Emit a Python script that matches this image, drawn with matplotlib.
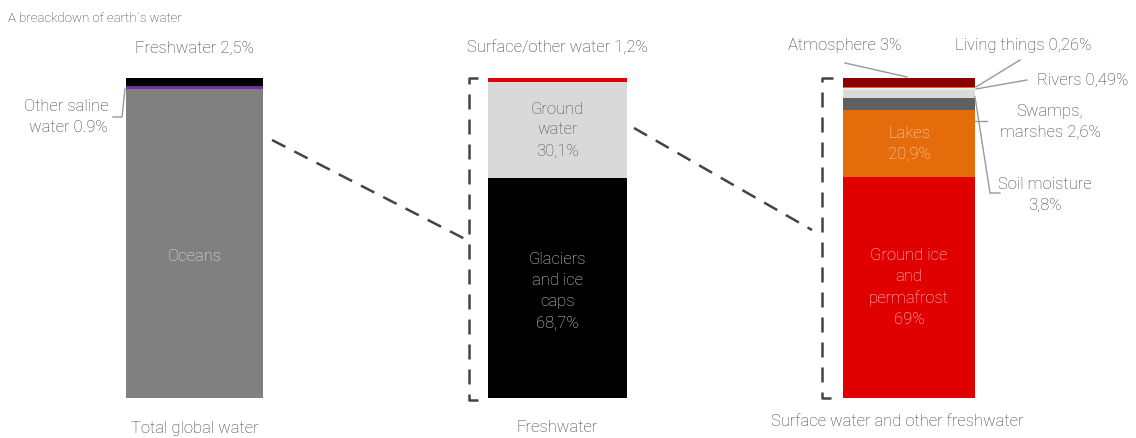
import matplotlib.pyplot as plt

# --- data ---
total_labels = ["Oceans", "Other saline water", "Freshwater"]
total_values = [96.6, 0.9, 2.5]
total_colors = ["#808080", "#7030a0", "#000000"]

fresh_labels = ["Glaciers and ice caps", "Ground water", "Surface/other water"]
fresh_values = [68.7, 30.1, 1.2]
fresh_colors = ["#000000", "#d9d9d9", "#e00000"]

surf_labels = ["Ground ice and permafrost", "Lakes", "Soil moisture",
               "Swamps, marshes", "Rivers", "Living things", "Atmosphere"]
surf_values = [69.0, 20.9, 3.8, 2.6, 0.49, 0.26, 3.0]
surf_colors = ["#e00000", "#e46c0a", "#5f5f5f", "#d9d9d9", "#ececec",
               "#e46c0a", "#8b0000"]

bar_names = ["Total global water", "Freshwater", "Surface water and other freshwater"]

plt.rcParams["font.family"] = ["Roboto", "DejaVu Sans"]
plt.rcParams["font.weight"] = "light"

fig = plt.figure(figsize=(11.36, 4.38), dpi=100)
ax = fig.add_axes([0, 0, 1, 1])
# x in pixels, y in percent (0 at px 398, 100 at px 78)
ax.set_xlim(0, 1136)
ax.set_ylim((398 - 438) / 3.2, 398 / 3.2)
ax.axis("off")

def py(p):
    return (398 - p) / 3.2

txt = "#3c3c3c"
ls = 1.5


def stack(xc, w, vals, cols):
    bottom = 0
    mids = []
    for v, c in zip(vals, cols):
        ax.bar(xc, v, width=w, bottom=bottom, color=c, linewidth=0)
        mids.append(bottom + v / 2)
        bottom += v
    return mids


m1 = stack(194.5, 137, total_values, total_colors)
m2 = stack(557.5, 139, fresh_values, fresh_colors)
m3 = stack(909, 132, surf_values, surf_colors)

fs = 12
# bar 1
ax.text(194.5, m1[0] - 4, "Oceans", color="#e8e8e8", ha="center", va="center", fontsize=fs)
ax.text(194.5, py(48), "Freshwater 2,5%", color=txt, ha="center", va="center", fontsize=fs)
ax.text(108, py(117), "Other saline\nwater 0.9%", color=txt, ha="right", va="center",
        fontsize=fs, linespacing=ls)
ax.plot([113, 122, 125], [py(117), py(117), py(89)], color="#999999", lw=1)

# bar 2
ax.text(557.5, py(48), "Surface/other water 1,2%", color=txt, ha="center", va="center", fontsize=fs)
ax.text(557.5, m2[1], "Ground\nwater\n30,1%", color="#4a4a4a", ha="center", va="center",
        fontsize=fs, linespacing=ls)
ax.text(557.5, m2[0] - 1, "Glaciers\nand ice\ncaps\n68,7%", color="#dddddd", ha="center",
        va="center", fontsize=fs, linespacing=ls)

# bar 3
ax.text(909, m3[1], "Lakes\n20,9%", color="#f8e0c8", ha="center", va="center",
        fontsize=fs, linespacing=ls)
ax.text(909, m3[0], "Ground ice\nand\npermafrost\n69%", color="#fadada", ha="center",
        va="center", fontsize=fs, linespacing=ls)

ax.text(845, py(45), "Atmosphere 3%", color=txt, ha="center", va="center", fontsize=fs)
ax.plot([845, 907], [py(63), py(77)], color="#999999", lw=1)
ax.text(1023, py(45), "Living things 0,26%", color=txt, ha="center", va="center", fontsize=fs)
ax.plot([1020, 976], [py(60), py(87)], color="#999999", lw=1)
ax.text(1128, py(80), "Rivers 0,49%", color=txt, ha="right", va="center", fontsize=fs)
ax.plot([1027, 976], [py(80), py(89)], color="#999999", lw=1)
ax.text(1050, py(122), "Swamps,\nmarshes 2,6%", color=txt, ha="center", va="center",
        fontsize=fs, linespacing=ls)
ax.plot([975, 987], [py(121), py(121)], color="#999999", lw=1)
ax.text(1045, py(195), "Soil moisture\n3,8%", color=txt, ha="center", va="center",
        fontsize=fs, linespacing=ls)
ax.plot([975, 990, 1000], [py(97), py(193), py(193)], color="#999999", lw=1)

# brackets and connectors
dash = dict(color="#444444", lw=1.8, ls=(0, (6, 4)))
ax.plot([478, 469, 469, 487], [py(78), py(78), py(400), py(400)], **dash)
ax.plot([833, 822, 822, 838], [py(78), py(78), py(398), py(398)], **dash)
ax.plot([272, 467], [py(140), py(240)], **dash)
ax.plot([634, 812], [py(128), py(230)], **dash)

# titles
ax.text(8, py(18), "A breackdown of earth\u00b4s water", color="#333333", ha="left",
        va="center", fontsize=9.5)
ax.text(194.5, py(428), bar_names[0], color=txt, ha="center", va="center", fontsize=fs)
ax.text(557.5, py(428), bar_names[1], color=txt, ha="center", va="center", fontsize=fs)
ax.text(897, py(422), bar_names[2], color=txt, ha="center", va="center", fontsize=fs)

fig.savefig("out.png", dpi=100)
